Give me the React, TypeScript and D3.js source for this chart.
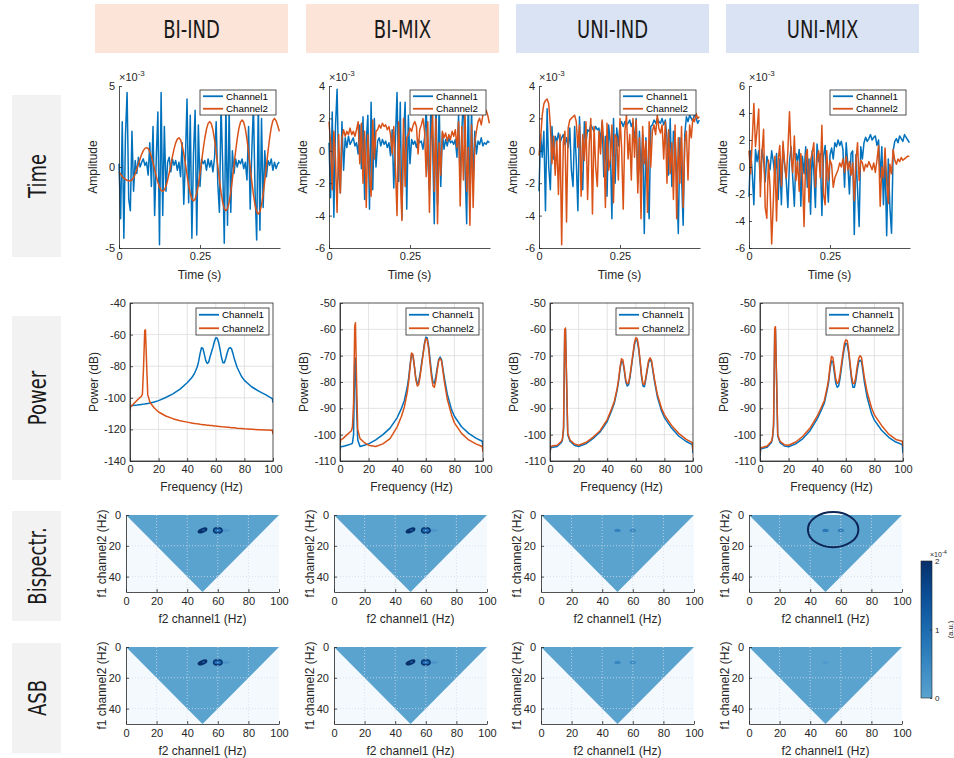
import { useEffect, useRef } from "react";
import * as d3 from "d3";

const W = 954;
const H = 758;
const FONT = "'Liberation Sans', Arial, Helvetica, sans-serif";
const TITLE_FONT = "'DejaVu Sans Condensed', 'DejaVu Sans', sans-serif";
const AXIS = "#262626";

const conditions = ["BI-IND", "BI-MIX", "UNI-IND", "UNI-MIX"];
const conditionFills = ["#fce4d9", "#fce4d9", "#dae3f3", "#dae3f3"];
const rowNames = ["Time", "Power", "Bispectr.", "ASB"];
const channelNames = ["Channel1", "Channel2"];
const channelColors = ["#0072bd", "#d95319"];

// time domain, sample step 5 ms, amplitude in units of 1e-3
const sampleStep = 0.005;
const timeXTicks = [0, 0.25];
const timeYDomains = [[-5, 5], [-6, 4], [-6, 4], [-6, 6]];
const timeYTicks = [[-5, 0, 5], [-6, -4, -2, 0, 2, 4], [-6, -4, -2, 0, 2, 4], [-6, -4, -2, 0, 2, 4, 6]];

const biIndCh1 = [
  0.2, -3.2, 2.8, -4.4, 2.0, 4.6, -2.0, -2.7, 2.2, -1.5,
  0.4, -0.4, 0.6, 0.0, 0.3, 0.5, 0.1, 0.3, -0.5, 1.5,
  -1.2, 2.5, -3.0, 0.5, 3.4, -4.8, 4.6, -3.0, 2.5, -1.5,
  0.3, 0.6, -0.3, 0.5, 0.1, 0.4, -0.2, 0.3, -0.6, 1.5,
  -2.3, 0.5, 4.2, -2.2, 3.2, -4.4, 0.8, 3.5, -4.2, 2.6,
  -1.2, 0.5, 0.2, 0.4, -0.2, 0.5, 0.0, 0.4, -0.3, 0.6,
  2.8, -1.0, -2.8, 3.8, 0.2, -4.7, 4.0, -3.6, 3.6, -2.8,
  1.0, -0.4, 0.5, 0.0, 0.4, 0.2, 0.5, -0.1, 0.3, -0.8,
  2.5, -2.6, 1.0, 3.8, -1.5, -4.5, 4.0, -3.9, 3.0, -2.5,
  1.0, -0.6, 0.4, 0.1, 0.5, -0.2, 0.3, -0.1, 0.2, 0.3,
];
const biIndCh2 = [
  -0.3, -0.45, -0.58, -0.69, -0.77, -0.82, -0.85, -0.85, -0.8, -0.66,
  -0.43, -0.14, 0.18, 0.49, 0.78, 1.01, 1.15, 1.2, 1.14, 0.94,
  0.64, 0.27, -0.15, -0.57, -0.94, -1.24, -1.44, -1.5, -1.42, -1.19,
  -0.82, -0.36, 0.15, 0.66, 1.12, 1.49, 1.72, 1.8, 1.68, 1.34,
  0.83, 0.19, -0.49, -1.13, -1.64, -1.98, -2.1, -1.98, -1.63, -1.09,
  -0.41, 0.35, 1.11, 1.79, 2.33, 2.68, 2.8, 2.67, 2.28, 1.67,
  0.9, 0.05, -0.8, -1.57, -2.18, -2.57, -2.7, -2.57, -2.17, -1.55,
  -0.77, 0.1, 0.97, 1.75, 2.37, 2.77, 2.9, 2.76, 2.35, 1.71,
  0.9, 0.0, -0.9, -1.71, -2.35, -2.76, -2.9, -2.76, -2.34, -1.68,
  -0.86, 0.05, 0.96, 1.78, 2.44, 2.86, 3.0, 2.85, 2.55, 2.2,
];
const biMixCh1 = [
  0.5, -2.9, 2.4, -4.1, 1.5, 3.8, -1.4, -2.6, 1.8, -1.2,
  0.8, 0.2, 0.9, 0.4, 0.6, 0.8, 0.3, 0.5, -0.2, 1.6,
  -1.1, 2.1, -3.0, 0.6, 2.2, -3.6, 3.0, -2.4, 2.0, -1.0,
  0.6, 0.8, 0.3, 0.7, 0.4, 0.6, 0.2, 0.5, -0.3, 1.3,
  -2.3, 0.7, 3.6, -1.9, 3.0, -4.2, 0.9, 3.0, -3.6, 2.2,
  -0.8, 0.7, 0.4, 0.6, 0.2, 0.7, 0.5, 0.6, 0.1, 0.8,
  2.6, -0.6, -2.4, 3.6, 0.4, -4.5, 3.5, -3.3, 3.0, -2.2,
  1.1, 0.1, 0.7, 0.3, 0.8, 0.5, 0.6, 0.4, 0.7, -0.4,
  2.2, -2.2, 1.2, 3.4, -1.0, -4.5, 3.5, -3.5, 2.6, -2.0,
  1.2, -0.2, 0.6, 0.4, 0.8, 0.3, 0.5, 0.4, 0.6, 0.5,
];
const biMixCh2 = [
  1.8, 0.5, -2.4, 1.2, -0.5, -3.8, 1.0, -2.6, 0.8, 1.3,
  0.9, 1.2, 1.0, 1.4, 1.0, 1.2, 0.9, 1.3, 1.8, -0.8,
  1.7, -2.0, 1.2, -3.5, 1.0, -1.5, -2.8, 1.9, -0.5, 1.2,
  1.3, 1.6, 1.4, 1.7, 1.5, 1.6, 1.3, 1.5, 1.0, -0.2,
  1.5, -1.0, -4.0, 1.8, -1.5, -4.3, 2.0, -2.2, 0.8, 1.0,
  1.4, 1.2, 1.6, 1.8, 1.5, -0.2, 1.3, 1.6, 2.0, 1.2,
  -1.6, 1.8, -3.8, 0.6, 2.2, -2.5, 2.0, -4.5, 0.5, -1.5,
  1.2, 0.8, 1.1, 0.6, 1.0, 0.7, 1.2, 0.9, 1.3, 0.2,
  1.8, -3.4, 1.5, -1.8, 2.3, -2.5, 0.2, -4.6, 1.6, -3.5,
  0.5, 1.2, 1.8, 2.0, 1.6, 2.2, 2.6, 2.5, 2.2, 1.7,
];
const uniIndCh1 = [
  -2.5, 1.0, -0.4, 1.2, -3.7, 2.6, -1.0, -2.4, 1.5, -0.5,
  0.9, 0.6, 1.1, 0.5, 0.8, 1.0, 0.4, 0.8, 0.2, 1.4,
  -1.2, -2.2, 1.5, -0.6, -3.7, 2.1, -1.0, -2.4, 1.8, 0.5,
  1.3, 1.2, 1.6, 1.4, 1.2, 1.5, 1.3, 1.4, 0.6, 1.8,
  -1.6, 0.9, -2.8, 1.6, 0.5, -4.2, 2.0, -2.0, 1.4, 0.3,
  1.6, 1.8, 1.5, 1.8, 1.6, 1.7, 1.9, 1.5, 1.8, 0.5,
  2.0, -2.0, 1.2, -1.5, 1.0, -5.1, 0.8, -1.8, -4.2, 1.5,
  1.6, 1.9, 1.7, 2.0, 1.8, 1.7, 2.0, 1.6, 1.9, 0.8,
  -1.5, 2.0, -2.2, 1.2, 1.0, -1.6, -5.1, 0.8, -1.5, -4.6,
  1.0, 2.1, 1.8, 2.2, 2.0, 1.8, 2.3, 2.0, 1.7, 1.9,
];
const uniIndCh2 = [
  -0.3, 0.8, 2.2, 2.9, 3.1, 3.2, 2.9, 1.6, -0.8, 0.9,
  -1.5, 0.6, -2.7, 1.0, -5.8, 0.5, 1.2, -4.4, 1.4, 1.9,
  2.0, 2.1, 2.2, 1.8, 0.2, 1.6, -2.8, 1.0, -0.6, 1.8,
  -3.0, 0.4, 2.0, -3.9, 1.5, -1.0, -2.2, 1.2, -0.2, 1.9,
  0.5, -3.5, 1.7, -1.2, -0.5, 1.6, -3.2, 1.0, 0.8, -1.8,
  2.0, 0.2, -3.6, 1.2, 2.2, -0.5, 1.0, -1.8, 2.0, -0.4,
  1.9, -2.6, 0.8, -4.2, 1.5, -0.8, 0.6, -3.8, 1.8, -1.0,
  1.2, 1.6, 1.0, 2.2, 1.4, 1.1, 1.6, -0.5, 1.8, -2.0,
  1.3, -1.4, 0.5, -3.0, 1.6, -4.2, 0.8, -2.0, 1.5, -3.5,
  0.5, 1.2, -1.8, 1.6, 0.8, 2.0, 1.8, 2.3, 2.0, 2.1,
];
const uniMixCh1 = [
  -2.2, 1.2, -0.4, -2.8, 1.3, 0.4, 1.2, -1.1, 1.3, 0.5,
  -1.1, 0.8, 0.3, -0.2, 1.2, 0.4, -0.6, 1.0, -2.4, 0.6,
  -2.8, 1.5, 0.2, -1.0, -3.0, 0.4, 1.5, -0.8, -2.9, 1.0,
  0.5, 1.3, -2.9, 0.8, -0.5, 1.5, -1.5, 0.6, -3.5, 1.2,
  -0.3, -3.0, 1.7, 0.4, 1.0, -3.6, 0.8, 1.6, -0.8, -2.6,
  0.9, 1.4, 0.6, 1.8, 1.5, 2.0, 1.6, 1.9, 1.3, -1.5,
  1.8, 0.2, -2.0, 1.0, 1.2, -5.0, 0.9, -1.6, -4.4, 1.5,
  0.6, 1.8, 2.2, 1.9, 2.1, 2.4, 2.0, 2.2, 2.3, 1.6,
  2.0, -0.8, 1.5, -2.8, 0.6, -5.1, 0.6, -3.0, -4.9, 1.2,
  1.9, 2.1, 1.8, 2.3, 2.1, 1.9, 2.4, 2.2, 2.0, 1.8,
];
const uniMixCh2 = [
  1.2, -0.5, 2.0, 4.7, 1.5, 2.8, 4.3, -2.2, 1.0, 2.8,
  -3.0, -3.8, 0.5, -1.5, -5.7, -2.6, 0.8, -4.0, 0.5, 1.6,
  -1.4, 1.9, 0.2, -0.8, 1.2, 4.1, 0.8, -0.4, 2.3, -1.0,
  0.4, -1.8, 1.0, -0.6, -4.4, 0.8, 1.3, -2.6, 0.5, 1.0,
  1.8, -1.5, 0.6, 1.2, -0.8, 3.1, -2.0, -2.8, 1.2, -1.0,
  0.5, 0.2, -1.5, -0.8, -0.5, -0.2, 0.3, 0.0, 0.6, -0.4,
  0.8, -0.2, 0.4, -0.6, 0.3, -2.5, 0.4, 1.8, -1.0, 0.5,
  0.3, -0.3, 0.2, 0.0, 0.4, 0.1, -0.2, 0.3, -0.4, 0.5,
  1.6, -2.9, 0.0, -0.8, 1.4, -1.0, -2.7, 0.2, -0.5, 1.3,
  0.5, 0.2, 0.6, 0.4, 0.7, 0.5, 0.6, 0.7, 0.8, 0.8,
];

// power spectra (dB) on a shared frequency grid (Hz)
const powerFreq = [
  0, 0.5, 2, 5, 8, 8.7, 9.5, 10.3, 10.8, 11.6,
  12.4, 14, 17, 20, 25, 30, 35, 40, 43, 45,
  47, 48, 49, 50, 51, 52, 53, 54, 55, 56,
  57, 58, 59, 60, 61, 62, 63, 64, 65, 66,
  67, 68, 69, 70, 71, 72, 73, 75, 78, 80,
  85, 90, 95, 99.5, 100,
];
const biIndPow1 = [
  -106, -105, -104.8, -104.6, -104.2, -104.1, -104, -103.9, -103.8, -103.7,
  -103.6, -103.3, -102.6, -101.8, -99.8, -97.5, -94.5, -90.5, -87.5, -84.8,
  -80.5, -77, -72, -68.3, -68.8, -72.5, -76.5, -78.3, -77.5, -74,
  -71, -68, -64.5, -62, -62.3, -65, -69.5, -74.5, -77.8, -77.8,
  -75, -71.5, -68.8, -68.2, -69, -72, -75.5, -81, -86.5, -89,
  -93, -95.8, -98.2, -100.5, -103,
];
const biIndPow2 = [
  -108, -105.5, -104.3, -101.5, -99, -97.5, -80, -57.5, -57, -78,
  -98, -103, -106.5, -109, -111.5, -113.2, -114.5, -115.4, -115.9, -116.2,
  -116.5, -116.6, -116.8, -116.9, -117, -117.1, -117.2, -117.3, -117.4, -117.5,
  -117.6, -117.7, -117.8, -117.9, -118, -118.1, -118.2, -118.3, -118.4, -118.5,
  -118.5, -118.6, -118.7, -118.8, -118.9, -118.9, -119, -119.2, -119.4, -119.6,
  -119.9, -120.2, -120.4, -120.6, -123,
];
const biMixPow1 = [
  -106, -104.5, -104.5, -104, -103.5, -103.2, -100, -72, -71, -90,
  -102, -104.5, -104, -103.5, -102, -100, -97.5, -93.5, -90, -87,
  -82, -78.5, -73.5, -69.5, -70, -74, -78.5, -80.5, -80, -77,
  -73, -69.5, -65.5, -63, -63.3, -66.5, -71.5, -76.5, -80, -80.5,
  -78, -74.5, -71.5, -70.5, -71.5, -75, -78.5, -84.5, -90.5, -93,
  -97, -99.5, -101.3, -102.5, -105,
];
const biMixPow2 = [
  -104, -102, -101.5, -100, -98.5, -97, -88, -59, -57.5, -80,
  -98, -101.5, -103, -104, -104.5, -103.5, -101.5, -97, -93, -89.5,
  -84, -80, -74.5, -69, -69.5, -74, -79, -81.5, -81, -78,
  -74, -70, -66, -63.5, -64, -67.5, -73, -78, -81.5, -82,
  -79.5, -75.5, -72, -71, -72, -76, -80, -86.5, -92.5, -95.5,
  -99.5, -102, -103.5, -104.5, -106.5,
];
const uniIndPow1 = [
  -107, -105, -104.8, -104.5, -103, -102, -98, -60.5, -60, -80,
  -100, -102.5, -104, -104.5, -103.5, -101.5, -99, -95, -91, -88,
  -83, -79.5, -75, -72, -72.5, -76, -80, -81.5, -81, -78,
  -74, -70, -66, -64, -64.3, -67.5, -72.5, -78, -81.5, -81.8,
  -79, -75.5, -72.5, -71.5, -72.5, -76, -79.5, -85.5, -91, -93.5,
  -97.5, -100.5, -102.5, -103.8, -107,
];
const uniIndPow2 = [
  -106.5, -104.5, -104.2, -104, -102.5, -101.5, -97, -60, -59.5, -79,
  -99.5, -102, -103.5, -104, -103, -101, -98.5, -94.3, -90.3, -87.3,
  -82.3, -78.8, -74.3, -71.2, -71.7, -75.2, -79.2, -80.7, -80.3, -77.3,
  -73.3, -69.3, -65.3, -63.2, -63.5, -66.7, -71.7, -77.2, -80.7, -81,
  -78.3, -74.8, -71.8, -70.8, -71.8, -75.2, -78.7, -84.5, -90, -92.5,
  -96.5, -99.5, -101.7, -103, -106,
];
const uniMixPow1 = [
  -108, -105.5, -105.2, -104.8, -103, -101.5, -97, -60.5, -60, -80,
  -100.5, -103, -104.3, -104.6, -103.5, -101.5, -98.5, -94, -90.5, -88,
  -83, -80, -75, -72, -72.3, -76.5, -80.5, -82, -81.5, -78.5,
  -74.5, -70.5, -67, -65.3, -65.6, -69, -74, -79, -82, -82,
  -79.5, -75.5, -72.5, -71.7, -72.3, -76, -80, -86, -92, -94.5,
  -98.3, -101, -102.8, -103.8, -107,
];
const uniMixPow2 = [
  -107, -105, -104.8, -104.3, -102.5, -101, -96, -59.5, -59, -79,
  -100, -102.5, -103.8, -104, -102.8, -100.6, -97.5, -93, -89.5, -87,
  -82, -78.8, -73.8, -70.3, -70.7, -74.8, -79, -80.5, -80, -77,
  -73, -69, -65.5, -64, -64.3, -67.8, -72.8, -77.8, -80.5, -80.6,
  -78, -74, -71, -70, -70.7, -74.5, -78.3, -84, -89.8, -92.5,
  -96.5, -99.8, -101.8, -102.5, -104.5,
];
const freqTicks = [0, 20, 40, 60, 80, 100];
const powerYDomains = [[-140, -40], [-110, -50], [-110, -50], [-110, -50]];
const powerYTicks = [
  [-140, -120, -100, -80, -60, -40],
  [-110, -100, -90, -80, -70, -60, -50],
  [-110, -100, -90, -80, -70, -60, -50],
  [-110, -100, -90, -80, -70, -60, -50],
];

// bispectrum / ASB peaks (Hz) and magnitudes (units of 1e-4)
const peakF2 = [50, 60];
const peakF1 = [10, 10];
const bispecPeakAmp = [[2.0, 1.9], [2.0, 1.9], [0.35, 0.3], [0.45, 0.4]];
const asbPeakAmp = [[2.0, 1.9], [2.0, 1.9], [0.3, 0.25], [0.08, 0]];
const bispYTicks = [0, 20, 40];
const colorbarTicks = [0, 1, 2];
const highlightCenter = [55, 9.5];

const timeSeries = [[biIndCh1, biIndCh2], [biMixCh1, biMixCh2], [uniIndCh1, uniIndCh2], [uniMixCh1, uniMixCh2]];
const powerSeries = [[biIndPow1, biIndPow2], [biMixPow1, biMixPow2], [uniIndPow1, uniIndPow2], [uniMixPow1, uniMixPow2]];

const fmt = (d: any) => String(d);
const bispColor = (v: number) => d3.interpolateBlues(0.55 + 0.45 * Math.max(0, Math.min(v / 2, 1)));

function styleAxis(g: any, size = 11) {
  g.select(".domain").attr("stroke", AXIS).attr("stroke-width", 0.8);
  g.selectAll(".tick line").attr("stroke", AXIS).attr("stroke-width", 0.8);
  g.selectAll(".tick text").attr("fill", AXIS).style("font-size", `${size}px`).style("font-family", FONT);
}

function legend(svg: any, right: number, top: number, w: number, h: number) {
  const x0 = right - w;
  const g = svg.append("g");
  g.append("rect").attr("x", x0).attr("y", top).attr("width", w).attr("height", h)
    .attr("fill", "#fff").attr("stroke", AXIS).attr("stroke-width", 0.8);
  channelNames.forEach((name, i) => {
    const cy = top + (h * (2 * i + 1)) / 4;
    g.append("line").attr("x1", x0 + 3).attr("x2", x0 + 23).attr("y1", cy).attr("y2", cy)
      .attr("stroke", channelColors[i]).attr("stroke-width", 1.8);
    g.append("text").attr("x", x0 + 26).attr("y", cy).attr("dy", "0.36em").attr("fill", "#000")
      .style("font-family", FONT).style("font-size", "9.8px").text(name);
  });
}

function yLabel(svg: any, x: number, y: number, text: string) {
  svg.append("text").attr("transform", `translate(${x},${y}) rotate(-90)`).attr("text-anchor", "middle")
    .attr("dy", "0.35em").attr("fill", AXIS).style("font-family", FONT).style("font-size", "12px").text(text);
}

function xLabel(svg: any, x: number, y: number, text: string) {
  svg.append("text").attr("x", x).attr("y", y).attr("text-anchor", "middle").attr("fill", AXIS)
    .style("font-family", FONT).style("font-size", "12px").text(text);
}

export default function App() {
  const ref = useRef<SVGSVGElement>(null);

  useEffect(() => {
    const svg = d3.select(ref.current);
    svg.selectAll("*").remove();
    const defs = svg.append("defs");

    // column headers
    const headerLeft = [95, 306, 516, 726];
    conditions.forEach((name, c) => {
      svg.append("rect").attr("x", headerLeft[c]).attr("y", 4).attr("width", 193).attr("height", 49)
        .attr("fill", conditionFills[c]);
      svg.append("text").attr("transform", `translate(${headerLeft[c] + 96.5},29) scale(0.8,1)`)
        .attr("dy", "0.36em").attr("text-anchor", "middle").attr("fill", "#1a1a1a")
        .style("font-family", TITLE_FONT).style("font-size", "25px").text(name);
    });

    // row labels
    const rowTop = [95, 316, 511, 643];
    const rowBottom = [257, 480, 621, 753];
    rowNames.forEach((name, r) => {
      svg.append("rect").attr("x", 12).attr("y", rowTop[r]).attr("width", 49)
        .attr("height", rowBottom[r] - rowTop[r]).attr("fill", "#f2f2f2");
      svg.append("text")
        .attr("transform", `translate(37,${(rowTop[r] + rowBottom[r]) / 2}) rotate(-90) scale(0.8,1)`)
        .attr("text-anchor", "middle").attr("dy", "0.36em").attr("fill", "#1a1a1a")
        .style("font-family", TITLE_FONT).style("font-size", "25px").text(name);
    });

    // time row
    const timeLeft = [119, 329, 539, 749];
    const timeW = 161;
    const tTop = 86;
    const tBottom = 248;
    timeSeries.forEach((pair, c) => {
      const left = timeLeft[c];
      const x = d3.scaleLinear().domain([0, 0.497]).range([left, left + timeW]);
      const y = d3.scaleLinear().domain(timeYDomains[c]).range([tBottom, tTop]);
      const line = d3.line<number>().x((_, i) => x(i * sampleStep)).y((d) => y(d));
      pair.forEach((s, k) => {
        svg.append("path").attr("d", line(s)).attr("fill", "none").attr("stroke", channelColors[k])
          .attr("stroke-width", 1.5).attr("stroke-linejoin", "round");
      });
      const gx = svg.append("g").attr("transform", `translate(0,${tBottom})`)
        .call(d3.axisBottom(x).tickValues(timeXTicks).tickFormat(fmt).tickSizeInner(-3).tickSizeOuter(0).tickPadding(4));
      styleAxis(gx);
      const gy = svg.append("g").attr("transform", `translate(${left},0)`)
        .call(d3.axisLeft(y).tickValues(timeYTicks[c]).tickFormat(fmt).tickSizeInner(-3).tickSizeOuter(0).tickPadding(4));
      styleAxis(gy);
      const ex = svg.append("text").attr("x", left).attr("y", tTop - 5).attr("fill", AXIS)
        .style("font-family", FONT).style("font-size", "11px");
      ex.append("tspan").text("\u00d710");
      ex.append("tspan").attr("dy", -5).style("font-size", "8px").text("-3");
      legend(svg, left + timeW - 4, tTop + 4, 76, 25);
      yLabel(svg, left - 26, (tTop + tBottom) / 2, "Amplitude");
      xLabel(svg, left + timeW / 2, 279, "Time (s)");
    });

    // power row
    const powerLeft = [130, 340, 550, 760];
    const powerW = 143;
    const pTop = 303;
    const pBottom = 461;
    powerSeries.forEach((pair, c) => {
      const left = powerLeft[c];
      const x = d3.scaleLinear().domain([0, 100]).range([left, left + powerW]);
      const y = d3.scaleLinear().domain(powerYDomains[c]).range([pBottom, pTop]);
      const grid = svg.append("g");
      freqTicks.slice(1, -1).forEach((f) => {
        grid.append("line").attr("x1", x(f)).attr("x2", x(f)).attr("y1", pTop).attr("y2", pBottom)
          .attr("stroke", "#dcdcdc").attr("stroke-width", 0.8);
      });
      powerYTicks[c].slice(1, -1).forEach((v) => {
        grid.append("line").attr("x1", left).attr("x2", left + powerW).attr("y1", y(v)).attr("y2", y(v))
          .attr("stroke", "#dcdcdc").attr("stroke-width", 0.8);
      });
      const clipId = `pclip${c}`;
      defs.append("clipPath").attr("id", clipId).append("rect")
        .attr("x", left).attr("y", pTop).attr("width", powerW).attr("height", pBottom - pTop);
      const line = d3.line<number>().x((_, i) => x(powerFreq[i])).y((d) => y(d));
      pair.forEach((s, k) => {
        svg.append("path").attr("d", line(s)).attr("clip-path", `url(#${clipId})`).attr("fill", "none")
          .attr("stroke", channelColors[k]).attr("stroke-width", 1.5).attr("stroke-linejoin", "round");
      });
      svg.append("rect").attr("x", left).attr("y", pTop).attr("width", powerW).attr("height", pBottom - pTop)
        .attr("fill", "none").attr("stroke", AXIS).attr("stroke-width", 0.8);
      const gx = svg.append("g").attr("transform", `translate(0,${pBottom})`)
        .call(d3.axisBottom(x).tickValues(freqTicks).tickFormat(fmt).tickSizeInner(-3).tickSizeOuter(0).tickPadding(4));
      styleAxis(gx);
      const gy = svg.append("g").attr("transform", `translate(${left},0)`)
        .call(d3.axisLeft(y).tickValues(powerYTicks[c]).tickFormat(fmt).tickSizeInner(-3).tickSizeOuter(0).tickPadding(4));
      styleAxis(gy);
      legend(svg, left + powerW - 4, pTop + 5, 73, 27);
      yLabel(svg, left - 36, (pTop + pBottom) / 2, "Power (dB)");
      xLabel(svg, left + powerW / 2, 491, "Frequency (Hz)");
    });

    // bispectrum and ASB rows
    const bispLeft = [126, 334, 541, 749];
    const bispW = 153;
    const imgH = 77;
    const imgRows = [
      { top: 515, amps: bispecPeakAmp, labelY: 623 },
      { top: 647, amps: asbPeakAmp, labelY: 755 },
    ];
    imgRows.forEach((row, r) => {
      bispLeft.forEach((left, c) => {
        const top = row.top;
        const x = d3.scaleLinear().domain([0, 100]).range([left, left + bispW]);
        const y = d3.scaleLinear().domain([0, 50]).range([top, top + imgH]);
        svg.append("rect").attr("x", left).attr("y", top).attr("width", bispW).attr("height", imgH)
          .attr("fill", "#f4f9fe");
        const tri: [number, number][] = [[0, 0], [100, 0], [50, 50]];
        svg.append("path")
          .attr("d", d3.line<[number, number]>().x((d) => x(d[0])).y((d) => y(d[1]))(tri) + "Z")
          .attr("fill", bispColor(0));
        const amps = row.amps[c];
        amps.forEach((a, p) => {
          if (a <= 0) return;
          const cx = x(peakF2[p]);
          const cy = y(peakF1[p]);
          if (a > 1) {
            if (p === 0) {
              svg.append("ellipse").attr("cx", cx).attr("cy", cy).attr("rx", 5.2).attr("ry", 2.4)
                .attr("transform", `rotate(-22,${cx},${cy})`).attr("fill", bispColor(a));
              svg.append("ellipse").attr("cx", cx + 1).attr("cy", cy - 0.3).attr("rx", 1.4).attr("ry", 0.9)
                .attr("fill", bispColor(a * 0.55));
            } else {
              svg.append("ellipse").attr("cx", x(peakF2[p] + 4)).attr("cy", cy).attr("rx", 6).attr("ry", 1.6)
                .attr("fill", bispColor(0.35)).attr("opacity", 0.6);
              svg.append("ellipse").attr("cx", cx).attr("cy", cy).attr("rx", 4.2).attr("ry", 2.6)
                .attr("fill", bispColor(a * 0.5)).attr("stroke", bispColor(a)).attr("stroke-width", 1.6);
            }
          } else {
            svg.append("ellipse").attr("cx", cx).attr("cy", cy).attr("rx", 3.2).attr("ry", 1.7)
              .attr("fill", bispColor(a * 2.2)).attr("opacity", 0.8);
          }
        });
        // dotted grid
        const grid = svg.append("g").attr("stroke", "#d4dbe2").attr("stroke-width", 0.8).attr("stroke-dasharray", "1,2");
        freqTicks.slice(1, -1).forEach((f) => {
          grid.append("line").attr("x1", x(f)).attr("x2", x(f)).attr("y1", top).attr("y2", top + imgH);
        });
        bispYTicks.slice(1).forEach((v) => {
          grid.append("line").attr("x1", left).attr("x2", left + bispW).attr("y1", y(v)).attr("y2", y(v));
        });
        if (r === 0 && c === 3) {
          svg.append("ellipse").attr("cx", x(highlightCenter[0])).attr("cy", y(highlightCenter[1]))
            .attr("rx", x(highlightCenter[0] + 16.5) - x(highlightCenter[0]))
            .attr("ry", y(highlightCenter[1] + 11.4) - y(highlightCenter[1]))
            .attr("fill", "none").attr("stroke", "#0c2456").attr("stroke-width", 2);
        }
        const gx = svg.append("g").attr("transform", `translate(0,${top + imgH})`)
          .call(d3.axisBottom(x).tickValues(freqTicks).tickFormat(fmt).tickSizeInner(-3).tickSizeOuter(0).tickPadding(5));
        styleAxis(gx);
        const gy = svg.append("g").attr("transform", `translate(${left},0)`)
          .call(d3.axisLeft(y).tickValues(bispYTicks).tickFormat(fmt).tickSizeInner(-3).tickSizeOuter(0).tickPadding(5));
        styleAxis(gy);
        yLabel(svg, left - 24, top + imgH / 2, "f1 channel2 (Hz)");
        xLabel(svg, left + bispW / 2, row.labelY, "f2 channel1 (Hz)");
      });
    });

    // colorbar
    const cbX = 921;
    const cbW = 11;
    const cbTop = 561;
    const cbBottom = 698;
    const grad = defs.append("linearGradient").attr("id", "cbar").attr("x1", 0).attr("y1", 1).attr("x2", 0).attr("y2", 0);
    d3.range(0, 1.0001, 0.1).forEach((t) => {
      grad.append("stop").attr("offset", t).attr("stop-color", bispColor(2 * t));
    });
    svg.append("rect").attr("x", cbX).attr("y", cbTop).attr("width", cbW).attr("height", cbBottom - cbTop)
      .attr("fill", "url(#cbar)").attr("stroke", AXIS).attr("stroke-width", 0.6);
    const cy = d3.scaleLinear().domain([0, 2]).range([cbBottom, cbTop]);
    const gc = svg.append("g").attr("transform", `translate(${cbX + cbW},0)`)
      .call(d3.axisRight(cy).tickValues(colorbarTicks).tickFormat(fmt).tickSizeInner(-2).tickSizeOuter(0).tickPadding(3));
    styleAxis(gc, 8);
    gc.select(".domain").remove();
    const ce = svg.append("text").attr("x", cbX + 9).attr("y", cbTop - 4).attr("fill", AXIS)
      .style("font-family", FONT).style("font-size", "7px");
    ce.append("tspan").text("\u00d710");
    ce.append("tspan").attr("dy", -3).style("font-size", "5.5px").text("-4");
    svg.append("text").attr("transform", `translate(950,${(cbTop + cbBottom) / 2}) rotate(-90)`)
      .attr("text-anchor", "middle").attr("dy", "0.35em").attr("fill", AXIS)
      .style("font-family", FONT).style("font-size", "7.5px").text("(a.u.)");
  }, []);

  return (
    <svg ref={ref} width={W} height={H} style={{ position: "absolute", left: 0, top: 0, background: "#fff" }} />
  );
}
